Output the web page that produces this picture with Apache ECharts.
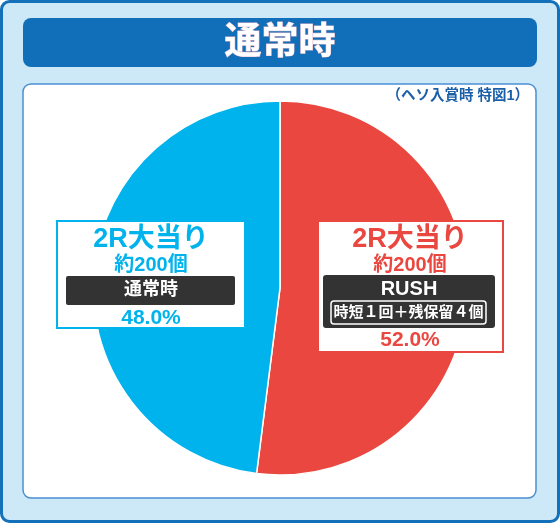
<!DOCTYPE html>
<html>
<head>
<meta charset="utf-8">
<script src="https://cdn.jsdelivr.net/npm/echarts@6/dist/echarts.min.js"></script>
<style>
html,body{margin:0;padding:0;background:#fff;}
#main{width:560px;height:523px;}
</style>
</head>
<body>
<div id="main"></div>
<script>
// ---- data ----
const chartTitle = '通常時';
const subTitle = '（ヘソ入賞時 特図1）';
const categories = ['RUSH', '通常時'];
const shares = [52.0, 48.0];
const bonusNames = ['2R大当り', '2R大当り'];
const payouts = ['約200個', '約200個'];
const rushDetail = '時短１回＋残保留４個';

// ---- styles ----
const RED = '#e9473f';
const BLUE = '#00b3ec';
const DARK = '#333333';
const FONT = '"Liberation Sans", "Noto Sans CJK JP", sans-serif';

function txt(x, y, text, size, fill, extraStyle) {
  return {
    type: 'text', z: 20,
    style: Object.assign({
      x: x, y: y, text: text, fill: fill,
      font: 'bold ' + size + 'px ' + FONT,
      align: 'center', verticalAlign: 'middle'
    }, extraStyle || {})
  };
}
function rect(x, y, w, h, r, style, z) {
  return { type: 'rect', z: z, shape: { x: x, y: y, width: w, height: h, r: r }, style: style };
}

const pct = shares.map(v => v.toFixed(1) + '%');

const chart = echarts.init(document.getElementById('main'), null, { renderer: 'canvas' });
chart.setOption({
  animation: false,
  graphic: [
    rect(1.5, 1.5, 557, 520, 8, { fill: '#cde9f7', stroke: '#1470b9', lineWidth: 3 }, 0),
    rect(23, 18, 514, 49, 8, { fill: '#106fb8' }, 1),
    txt(280, 43.5, chartTitle, 37, '#ffffff', { stroke: '#e9b8cc', lineWidth: 1 }),
    rect(23, 84, 513, 414, 8, { fill: '#ffffff', stroke: '#4a8fd6', lineWidth: 1.5 }, 1),
    txt(529, 96, subTitle, 14.5, '#1a5fa8', { align: 'right' }),

    // left label (通常時)
    rect(57, 221, 188, 107, 0, { fill: '#ffffff', stroke: BLUE, lineWidth: 2 }, 15),
    txt(151, 240, bonusNames[1], 27, BLUE),
    txt(151, 265.5, payouts[1], 20, BLUE),
    rect(66, 276, 169, 29, 2, { fill: DARK }, 16),
    txt(151, 290.5, categories[1], 18, '#ffffff'),
    txt(151, 318, pct[1], 21, BLUE),

    // right label (RUSH)
    rect(318, 221, 185, 131, 0, { fill: '#ffffff', stroke: RED, lineWidth: 2 }, 15),
    txt(410, 240, bonusNames[0], 27, RED),
    txt(410, 265.5, payouts[0], 20, RED),
    rect(323, 275, 172, 53, 3, { fill: DARK }, 16),
    txt(409, 289, categories[0], 20, '#ffffff'),
    rect(331, 301, 155, 23, 3, { fill: DARK, stroke: '#ffffff', lineWidth: 1.5 }, 17),
    txt(408.5, 313, rushDetail, 15, '#ffffff'),
    txt(410, 340.5, pct[0], 21, RED)
  ],
  series: [{
    type: 'pie',
    z: 5,
    center: [280, 288],
    radius: [0, 187],
    startAngle: 90,
    clockwise: true,
    silent: true,
    label: { show: false },
    labelLine: { show: false },
    itemStyle: { borderColor: '#ffffff', borderWidth: 1.5 },
    data: categories.map((c, i) => ({
      name: c, value: shares[i],
      itemStyle: { color: i === 0 ? RED : BLUE }
    }))
  }]
});
</script>
</body>
</html>
